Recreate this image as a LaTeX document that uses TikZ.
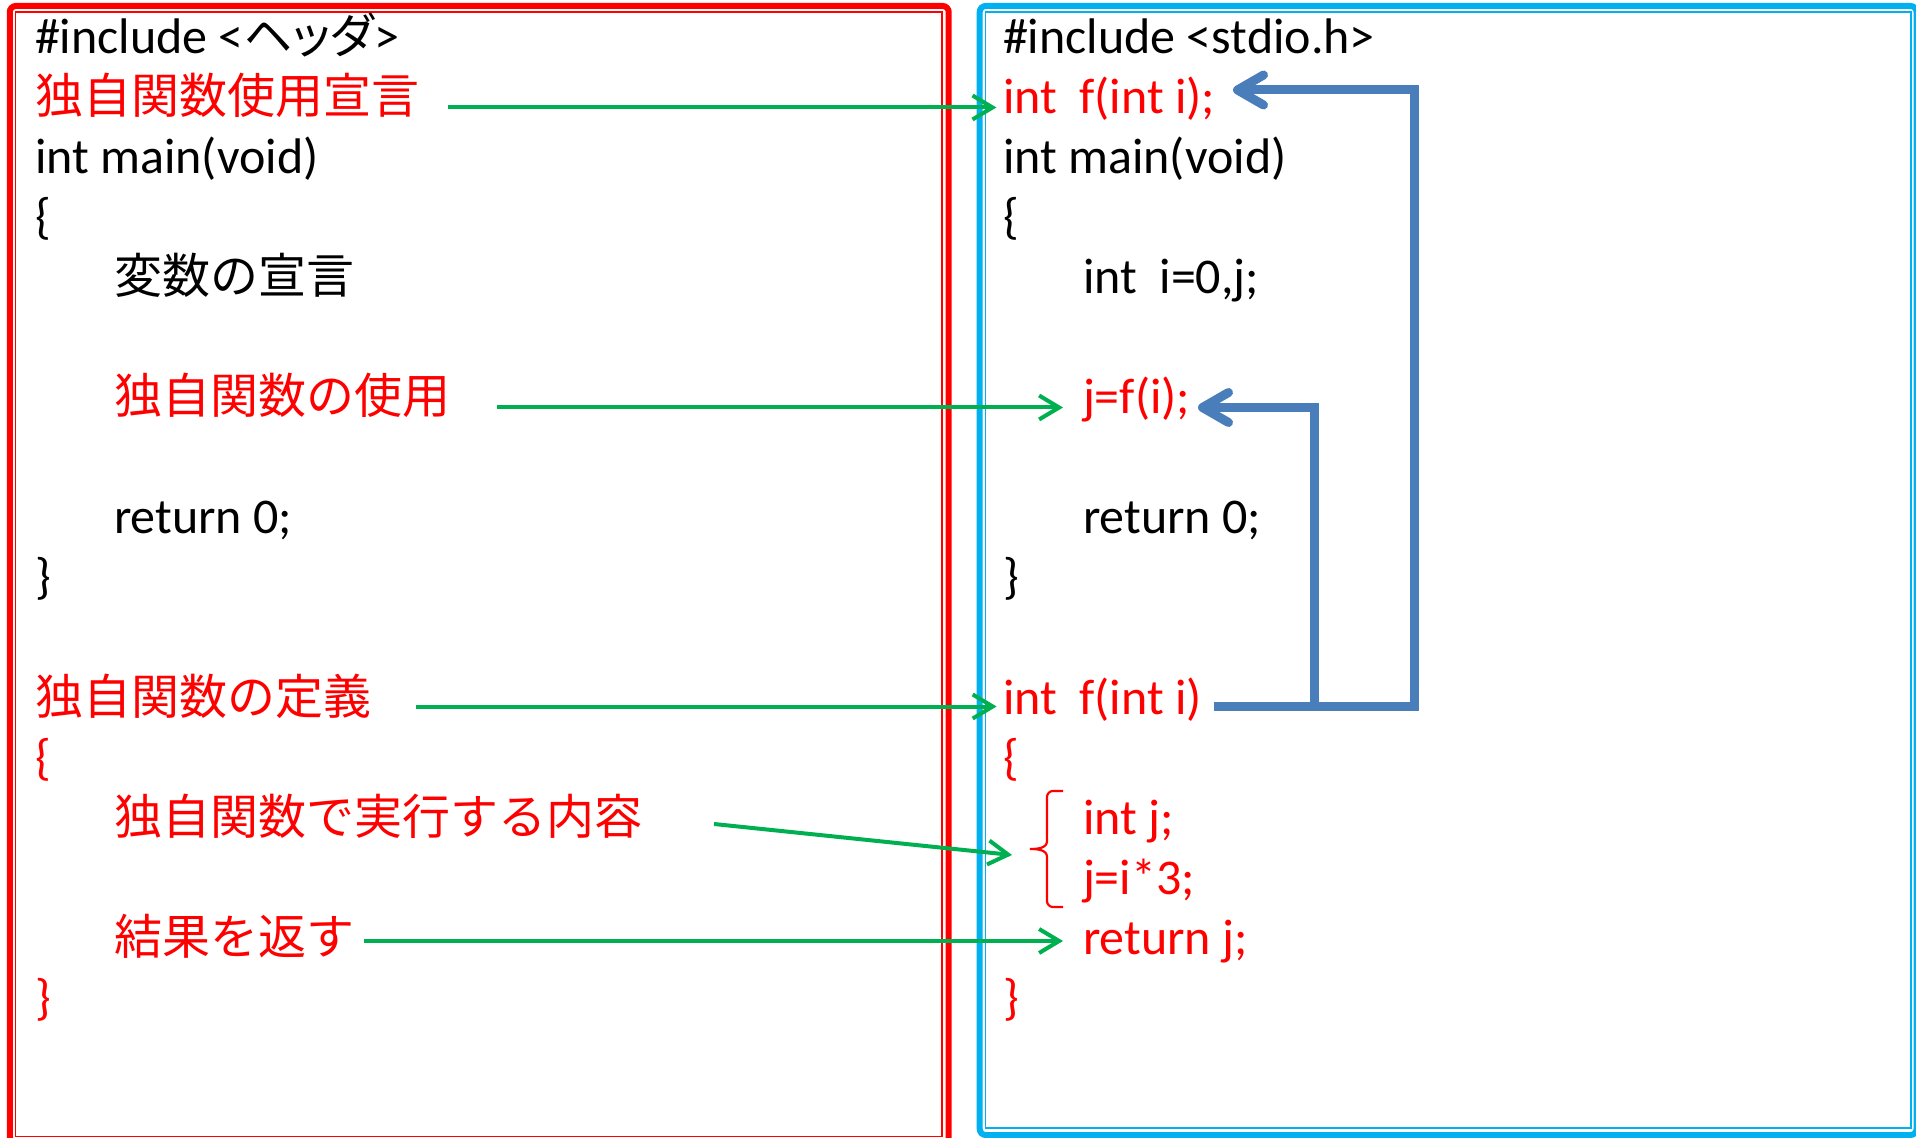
\documentclass[tikz,border=0pt]{standalone}
\usepackage{fontspec}
\setmainfont{Carlito}
\newfontfamily\jp{Noto Sans CJK JP}[Scale=0.96]
\newfontfamily\jpprop{Noto Sans CJK JP}[Scale=0.96,RawFeature=+palt]
\usetikzlibrary{arrows.meta}
\definecolor{codered}{HTML}{FF0000}
\definecolor{linkgreen}{HTML}{00B050}
\definecolor{callblue}{HTML}{4A7EBB}
\definecolor{framecyan}{HTML}{00B0F0}
\begin{document}
\begin{tikzpicture}[x=0.5pt,y=-0.5pt,
  code/.style={inner sep=0pt,outer sep=0pt,anchor=base west,font=\fontsize{25}{30}\selectfont},
  hl/.style={code,text=codered},
  garrow/.style={draw=linkgreen,line width=2pt,-{Straight Barb[length=10pt,width=12pt]}},
  barrow/.style={draw=callblue,line width=4.5pt,line join=miter,-{Straight Barb[length=13pt,width=15pt,round]}},
  thickframe/.style={line width=3pt,rounded corners=3pt},
  thinframe/.style={line width=0.8pt}]
\useasboundingbox (0,0) rectangle (1916,1138);
\clip (0,0) rectangle (1916,1138);

% panel frames: thick outer line with a thin inner line
\draw[codered,thickframe] (9.8,6) rectangle (948.7,1143);
\draw[codered,thinframe] (15.5,12) rectangle (942,1136.5);
\draw[framecyan,thickframe] (979.7,6) rectangle (1916.5,1135);
\draw[framecyan,thinframe] (985.5,12) rectangle (1911,1128);

% left panel: program skeleton
\node[code] (lhdr)    at (35,54)   {\#include <{\jpprop ヘッダ}>};
\node[hl]   (ldecl)   at (35,114)  {\jp 独自関数使用宣言};
\node[code] (lmain)   at (35,174)  {int main(void)};
\node[code] (lopen)   at (35,234)  {\{};
\node[code] (lvar)    at (114,294) {\jp 変数の宣言};
\node[hl]   (luse)    at (114,414) {\jp 独自関数の使用};
\node[code] (lret)    at (114,534) {return 0;};
\node[code] (lclose)  at (35,594)  {\}};
\node[hl]   (ldef)    at (35,714)  {\jp 独自関数の定義};
\node[hl]   (lbopen)  at (35,774)  {\{};
\node[hl]   (lbody)   at (114,834) {\jp 独自関数で実行する内容};
\node[hl]   (lres)    at (114,954) {\jp 結果を返す};
\node[hl]   (lbclose) at (35,1014) {\}};

% right panel: concrete C code
\node[code] (rhdr)    at (1003,54)  {\#include <stdio.h>};
\node[hl]   (rproto)  at (1003,114) {int\ \ f(int i);};
\node[code] (rmain)   at (1003,174) {int main(void)};
\node[code] (ropen)   at (1003,234) {\{};
\node[code] (rvar)    at (1083,294) {int\ \ i=0,j;};
\node[hl]   (rcall)   at (1083,414) {j=f(i);};
\node[code] (rret)    at (1083,534) {return 0;};
\node[code] (rclose)  at (1003,594) {\}};
\node[hl]   (rdef)    at (1003,714) {int\ \ f(int i)};
\node[hl]   (rbopen)  at (1003,774) {\{};
\node[hl]   (rj)      at (1083,834) {int j;};
\node[hl]   (rcalc)   at (1083,894) {j=i*3;};
\node[hl]   (rretj)   at (1083,954) {return j;};
\node[hl]   (rbclose) at (1003,1014) {\}};

% brace grouping the body statements
\coordinate (bracetip) at (1030,849);
\draw[codered,line width=1.1pt]
  (1063,791) -- (1053,791) to[out=180,in=90] (1047,797) -- (1047,841)
  to[out=-90,in=0] (bracetip) to[out=0,in=90] (1047,857) -- (1047,901)
  to[out=-90,in=180] (1053,907) -- (1063,907);

% green correspondence arrows
\coordinate (g1) at (448,107.5);
\coordinate (g2) at (497,407.5);
\coordinate (g3) at (415.5,706.5);
\coordinate (g4) at (714,824);
\coordinate (g4e) at (1012,855);
\coordinate (g5) at (364,941);
\draw[garrow,shorten >=3.3pt] (g1) -- (g1 -| rproto.west);
\draw[garrow,shorten >=10pt] (g2) -- (g2 -| rcall.west);
\draw[garrow,shorten >=3.2pt] (g3) -- (g3 -| rdef.west);
\draw[garrow] (g4) -- (g4e);
\draw[garrow,shorten >=10pt] (g5) -- (g5 -| rretj.west);

% blue arrows from the definition to prototype and call
\coordinate (bs) at (1214,706.5);
\coordinate (rail1) at (1414,706.5);
\coordinate (rail2) at (1314,706.5);
\coordinate (t1) at (1233,90);
\coordinate (t2) at (1198,407.5);
\draw[barrow] (bs) -- (rail1) -- (rail1 |- t1) -- (t1);
\draw[barrow] (rail2) -- (rail2 |- t2) -- (t2);
\end{tikzpicture}
\end{document}
